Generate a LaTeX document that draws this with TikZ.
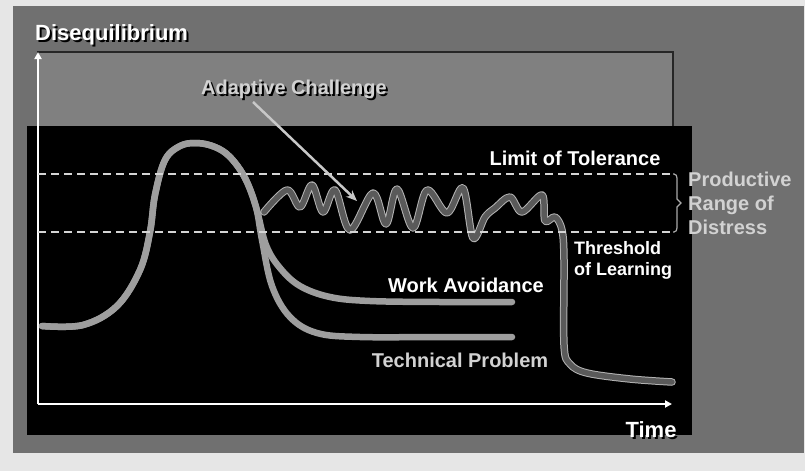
\documentclass[tikz,border=0pt]{standalone}
\usepackage{fontspec}
\setmainfont{Liberation Sans}
\usetikzlibrary{arrows.meta}

\definecolor{pagebg}{HTML}{E6E6E6}
\definecolor{panel}{HTML}{707070}
\definecolor{upperband}{HTML}{808080}
\definecolor{curvegray}{HTML}{9E9E9E}
\definecolor{wavefill}{HTML}{5A5A5A}
\definecolor{waveedge}{HTML}{B4B4B4}
\definecolor{dashgray}{HTML}{D4D4D4}
\definecolor{softtext}{HTML}{D2D2D2}
\definecolor{arrowgray}{HTML}{C8C8C8}

\begin{document}
\begin{tikzpicture}[x=1pt,y=-1pt,
  lbl/.style={inner sep=0pt, font=\fontsize{20}{24}\selectfont\bfseries, text=white},
  biglbl/.style={lbl, font=\fontsize{22}{26}\selectfont\bfseries},
  smalllbl/.style={inner sep=0pt, font=\fontsize{18}{21}\selectfont\bfseries, text=white, align=left},
  shadowtxt/.style={biglbl, text=black},
  response/.style={draw=curvegray, line width=6.5pt, line cap=round, line join=round},
  axis/.style={draw=white, line width=2pt, -{Triangle[length=7pt,width=7pt]}},
  bandline/.style={draw=dashgray, line width=1.5pt, dash pattern=on 8pt off 5pt}
]
% page and panels
\useasboundingbox (0,0) rectangle (805,471);
\fill[pagebg] (0,0) rectangle (805,471);
\fill[panel] (13,6) rectangle (804,453);
\filldraw[fill=upperband, draw=black!85, line width=1.2pt] (38,52) rectangle (673,140);
\fill[black] (27,126) rectangle (692,435);

% axes
\coordinate (origin) at (38,404);
\coordinate (ytop) at (38,52);
\coordinate (xend) at (672,404);
\draw[axis] (origin) -- (ytop);
\draw[axis] (origin) -- (xend);

% early peak that settles as work avoidance
\draw[response] plot[smooth, tension=0.6] coordinates {
  (42,326) (83,325) (117,306) (140,270) (150,232) (155,195) (165,160)
  (180,146) (197,143) (215,147) (230,157) (245,178) (256,207)
  (266,245) (280,268) (300,286) (330,297) (370,301) (440,302) (512,302)};
% early peak that settles as technical problem
\draw[response] plot[smooth, tension=0.6] coordinates {
  (42,326) (83,325) (117,306) (140,270) (150,232) (155,195) (165,160)
  (180,146) (197,143) (215,147) (230,157) (245,178) (256,207)
  (262,240) (272,286) (290,317) (317,333) (360,337) (440,337) (512,337)};

% adaptive work: oscillation inside the productive range, then the drop
\foreach \wcol/\wwid in {waveedge/7.5pt, wavefill/5.5pt}{
\draw[draw=\wcol, line width=\wwid, line cap=round, line join=round]
  plot[smooth, tension=0.55] coordinates {
  (264,212) (287,190) (300,207) (312,185) (323,212) (335,190) (350,230)
  (373,193) (386,224) (397,189) (413,228) (427,190) (447,213) (463,188)
  (473,238) (485,217) (495,208) (510,197) (522,212) (542,195) (545,221)
  (555,217) (562,230) (564,260) (564,345) (570,364) (587,373) (630,379)
  (672,382)};
}

% band limits and brace
\coordinate (limL) at (38,174);
\coordinate (limR) at (673,174);
\coordinate (thrL) at (38,232);
\coordinate (thrR) at (673,232);
\draw[bandline] (limL) -- (limR);
\draw[bandline] (thrL) -- (thrR);
\draw[draw=dashgray!80!black, line width=1.2pt] (limR) -- (674,174) to[out=0,in=90] (677,178)
  -- (677,199) -- (681,203) -- (677,207) -- (677,228) to[out=-90,in=0] (674,232) -- (thrR);

% labels
\node[shadowtxt, anchor=base west] (dis-sh) at (37,42.5) {Disequilibrium};
\node[biglbl, anchor=base west] (dis) at (35,40.5) {Disequilibrium};

\node[shadowtxt, anchor=base, font=\fontsize{20}{24}\selectfont\bfseries] (adapt-sh) at (296,96) {Adaptive Challenge};
\node[lbl, anchor=base, text=softtext] (adapt) at (294,94) {Adaptive Challenge};
\coordinate (adapttip) at (357,201);
\draw[draw=arrowgray, line width=2.5pt, -{Stealth[length=11pt,width=9pt]}] (253,102) -- (adapttip);

\node[lbl, anchor=base] (limit) at (575,165.7) {Limit of Tolerance};
\node[lbl, anchor=base west, text=softtext, align=left,
      font=\fontsize{20}{24.3}\selectfont\bfseries] (range) at (688,234.7)
  {Productive\\Range of\\Distress};
\node[smalllbl, anchor=base west] (thresh) at (574,275) {Threshold\\of Learning};
\node[lbl, anchor=base] (avoid) at (466,292) {Work Avoidance};
\node[lbl, anchor=base, text=softtext] (tech) at (460,367) {Technical Problem};

\node[shadowtxt, anchor=base] (time-sh) at (653,439) {Time};
\node[biglbl, anchor=base] (time) at (651,437) {Time};
\end{tikzpicture}
\end{document}
